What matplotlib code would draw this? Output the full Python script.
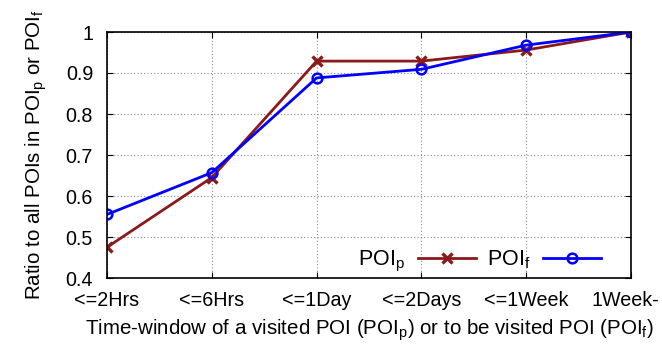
import matplotlib
matplotlib.use("Agg")
import matplotlib.pyplot as plt
import matplotlib.transforms as mtransforms

plt.rcParams['font.family'] = ['Liberation Sans', 'DejaVu Sans']
plt.rcParams['mathtext.fontset'] = 'custom'
plt.rcParams['mathtext.rm'] = 'Liberation Sans'
plt.rcParams['mathtext.it'] = 'Liberation Sans'

categories = ["<=2Hrs", "<=6Hrs", "<=1Day", "<=2Days", "<=1Week", "1Week-"]
poi_p = [0.475, 0.645, 0.929, 0.929, 0.956, 1.0]
poi_f = [0.555, 0.657, 0.888, 0.909, 0.968, 1.0]
yticks = [0.4, 0.5, 0.6, 0.7, 0.8, 0.9, 1]

fig = plt.figure(figsize=(6.62, 3.44), dpi=100)
ax = fig.add_axes([107/662, 1-278/344, 524/662, 246/344])
x = list(range(len(categories)))
ax.plot(x, poi_p, color='#8b1a1a', linewidth=2, marker='x', markersize=7,
        markeredgewidth=2.4, label=r'POI$_\mathrm{p}$')
ax.plot(x, poi_f, color='#0000ff', linewidth=2, marker='o', markersize=7,
        markerfacecolor='none', markeredgewidth=1.8, label=r'POI$_\mathrm{f}$')

ax.set_xlim(0, 5)
ax.set_ylim(0.4, 1)
ax.set_xticks(x)
ax.set_xticklabels(categories)
ax.set_yticks(yticks)
ax.set_yticklabels(["0.4", "0.5", "0.6", "0.7", "0.8", "0.9", "1"])
ax.tick_params(direction='in', labelsize=14.2, length=4, top=True, right=True)
ax.tick_params(axis='x', pad=9)
ax.tick_params(axis='y', pad=10)
ax.grid(True, linestyle=(0, (1, 2)), color='#888888', linewidth=0.8)
for s in ax.spines.values():
    s.set_linewidth(1.2)

# nudge the last tick label so it stays inside the picture
last = ax.get_xticklabels()[-1]
last.set_transform(last.get_transform() + mtransforms.ScaledTranslation(-6/100, 0, fig.dpi_scale_trans))

ax.set_xlabel(r'Time-window of a visited POI (POI$_\mathrm{p}$) or to be visited POI (POI$_\mathrm{f}$)',
              fontsize=14.8, labelpad=6)
ax.set_ylabel(r'Ratio to all POIs in POI$_\mathrm{p}$ or POI$_\mathrm{f}$', fontsize=14.8, labelpad=12)

leg = ax.legend(loc='lower right', ncol=2, markerfirst=False, frameon=False,
                fontsize=15.5, handlelength=2.7, columnspacing=0.5, handletextpad=0.6,
                borderaxespad=0.0, bbox_to_anchor=(0.96, -0.02))

fig.savefig('out.png', dpi=100)
